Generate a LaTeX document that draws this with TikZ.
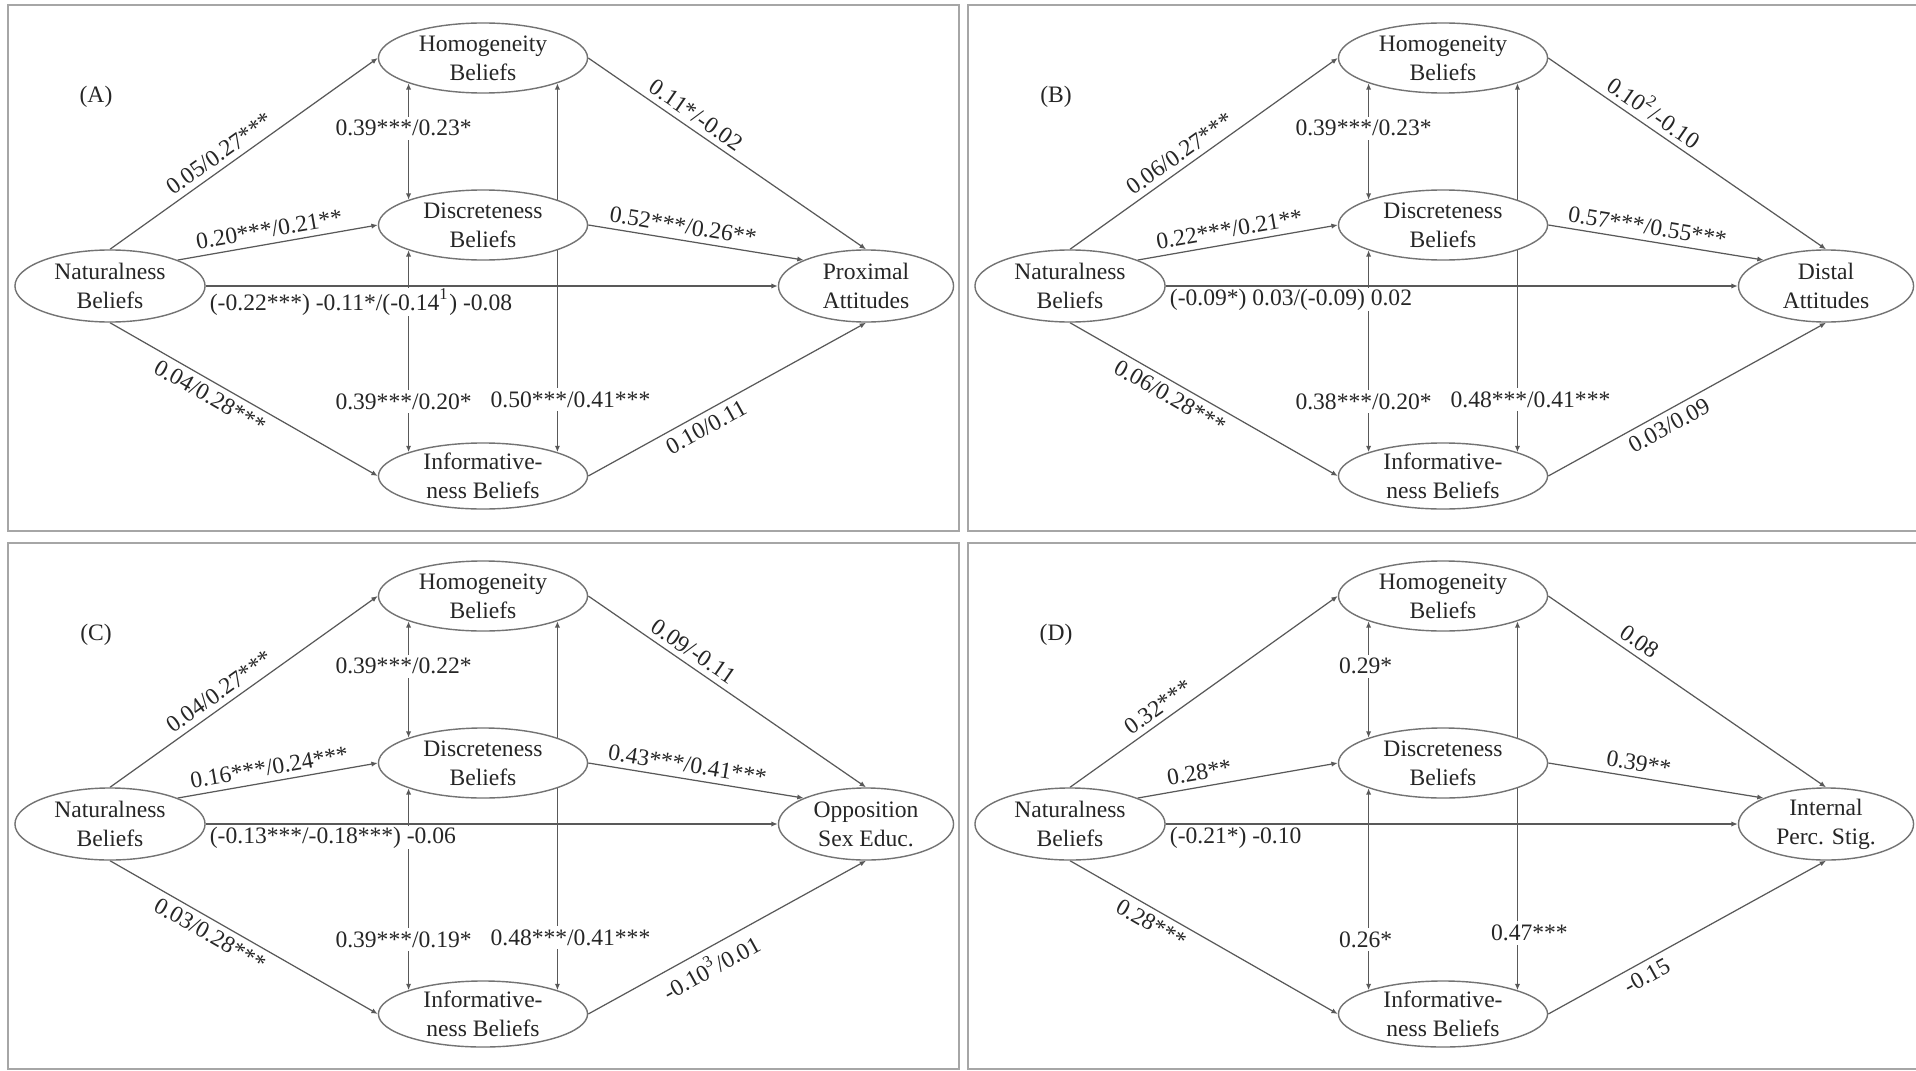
\documentclass[tikz,border=0pt]{standalone}
\usepackage{fontspec}
\setmainfont{Liberation Serif}
\usetikzlibrary{shapes.geometric,arrows.meta,backgrounds}

\tikzset{
  belief/.style={ellipse, draw=black!55, fill=white, line width=0.4pt, inner sep=0pt,
    align=center, minimum width=2.09cm, minimum height=0.70cm},
  frame/.style={draw=black!35, line width=0.6pt},
  link/.style={line width=0.35pt, -{Latex[length=1.8pt,width=1.5pt]},
    every edge/.style={draw=black!65}},
  both/.style={{Latex[length=1.8pt,width=1.5pt]}-{Latex[length=1.8pt,width=1.5pt]}},
  coef/.style={sloped, inner sep=1.6pt},
  vcoef/.style={fill=white, inner sep=1pt},
  hcoef/.style={pos=0, anchor=north west, fill=white, inner xsep=1pt, inner ysep=0.3pt, yshift=-0.012cm}
}

% frame and the five beliefs of one panel
\newcommand{\panelnodes}[4]{%
  \begin{scope}[shift={#2}]
    \draw[frame] (0,0) rectangle (951,526);
    \node (#1tag) at (88,92) {(#3)};
    \node[belief] (#1hom) at (475,53) {Homogeneity\\Beliefs};
    \node[belief] (#1dis) at (475,220) {Discreteness\\Beliefs};
    \node[belief, minimum height=0.66cm] (#1inf) at (475,471) {Informative-\\ness Beliefs};
    \node[belief, minimum width=1.90cm, minimum height=0.72cm] (#1nat) at (102,281) {Naturalness\\Beliefs};
    \node[belief, minimum width=1.75cm, minimum height=0.72cm] (#1out) at (858,281) {#4};
  \end{scope}}

\begin{document}
\begin{tikzpicture}[x=0.01cm, y=-0.01cm, text=black!85, font=\fontsize{6.7}{8.2}\selectfont]
  \useasboundingbox (0,0) rectangle (1916,1070);

  \panelnodes{a}{(8,5)}{A}{Proximal\\Attitudes}
  \panelnodes{b}{(968,5)}{B}{Distal\\Attitudes}
  \panelnodes{c}{(8,543)}{C}{Opposition\\Sex Educ.}
  \panelnodes{d}{(968,543)}{D}{Internal\\Perc. Stig.}

  \begin{scope}[on background layer]
    % (A)
    \path[link]
      (ahom.south west) edge[both] node[vcoef, pos=.385, xshift=-0.05cm] {0.39***/0.23*} (adis.north west)
      (adis.south west) edge[both] node[vcoef, pos=.75, xshift=-0.05cm] {0.39***/0.20*} (ainf.north west)
      (ahom.south east) edge[both] node[vcoef, pos=.857, xshift=0.13cm] {0.50***/0.41***} (ainf.north east)
      (anat.east) edge node[hcoef] {(-0.22***) -0.11*/(-0.14\textsuperscript{1}) -0.08} (aout.west)
      (anat.north) edge node[coef, above, pos=.44] {0.05/0.27***} (ahom.west)
      (anat.north east) edge node[coef, above, pos=.47] {0.20***/0.21**} (adis.west)
      (anat.south) edge node[coef, below, pos=.4] {0.04/0.28***} (ainf.west)
      (ahom.east) edge node[coef, above, pos=.36] {0.11*/-0.02} (aout.north)
      (adis.east) edge node[coef, above, pos=.43] {0.52***/0.26**} (aout.north west)
      (ainf.east) edge node[coef, below, pos=.4] {0.10/0.11} (aout.south);
    % (B)
    \path[link]
      (bhom.south west) edge[both] node[vcoef, pos=.385, xshift=-0.05cm] {0.39***/0.23*} (bdis.north west)
      (bdis.south west) edge[both] node[vcoef, pos=.75, xshift=-0.05cm] {0.38***/0.20*} (binf.north west)
      (bhom.south east) edge[both] node[vcoef, pos=.857, xshift=0.13cm] {0.48***/0.41***} (binf.north east)
      (bnat.east) edge node[hcoef] {(-0.09*) 0.03/(-0.09) 0.02} (bout.west)
      (bnat.north) edge node[coef, above, pos=.44] {0.06/0.27***} (bhom.west)
      (bnat.north east) edge node[coef, above, pos=.47] {0.22***/0.21**} (bdis.west)
      (bnat.south) edge node[coef, below, pos=.4] {0.06/0.28***} (binf.west)
      (bhom.east) edge node[coef, above, pos=.35] {0.10\textsuperscript{2}/-0.10} (bout.north)
      (bdis.east) edge node[coef, above, pos=.45] {0.57***/0.55***} (bout.north west)
      (binf.east) edge node[coef, below, pos=.41] {0.03/0.09} (bout.south);
    % (C)
    \path[link]
      (chom.south west) edge[both] node[vcoef, pos=.385, xshift=-0.05cm] {0.39***/0.22*} (cdis.north west)
      (cdis.south west) edge[both] node[vcoef, pos=.75, xshift=-0.05cm] {0.39***/0.19*} (cinf.north west)
      (chom.south east) edge[both] node[vcoef, pos=.857, xshift=0.13cm] {0.48***/0.41***} (cinf.north east)
      (cnat.east) edge node[hcoef] {(-0.13***/-0.18***) -0.06} (cout.west)
      (cnat.north) edge node[coef, above, pos=.44] {0.04/0.27***} (chom.west)
      (cnat.north east) edge node[coef, above, pos=.47] {0.16***/0.24***} (cdis.west)
      (cnat.south) edge node[coef, below, pos=.4] {0.03/0.28***} (cinf.west)
      (chom.east) edge node[coef, above, pos=.35] {0.09/-0.11} (cout.north)
      (cdis.east) edge node[coef, above, pos=.45] {0.43***/0.41***} (cout.north west)
      (cinf.east) edge node[coef, below, pos=.41] {-0.10\textsuperscript{3}/0.01} (cout.south);
    % (D)
    \path[link]
      (dhom.south west) edge[both] node[vcoef, pos=.385, xshift=-0.03cm] {0.29*} (ddis.north west)
      (ddis.south west) edge[both] node[vcoef, pos=.75, xshift=-0.03cm] {0.26*} (dinf.north west)
      (dhom.south east) edge[both] node[vcoef, pos=.845, xshift=0.12cm] {0.47***} (dinf.north east)
      (dnat.east) edge node[hcoef] {(-0.21*) -0.10} (dout.west)
      (dnat.north) edge node[coef, above, pos=.36] {0.32***} (dhom.west)
      (dnat.north east) edge node[coef, above, pos=.32] {0.28**} (ddis.west)
      (dnat.south) edge node[coef, below, pos=.33] {0.28***} (dinf.west)
      (dhom.east) edge node[coef, above, pos=.3] {0.08} (dout.north)
      (ddis.east) edge node[coef, above, pos=.41] {0.39**} (dout.north west)
      (dinf.east) edge node[coef, below, pos=.33] {-0.15} (dout.south);
  \end{scope}
\end{tikzpicture}
\end{document}
